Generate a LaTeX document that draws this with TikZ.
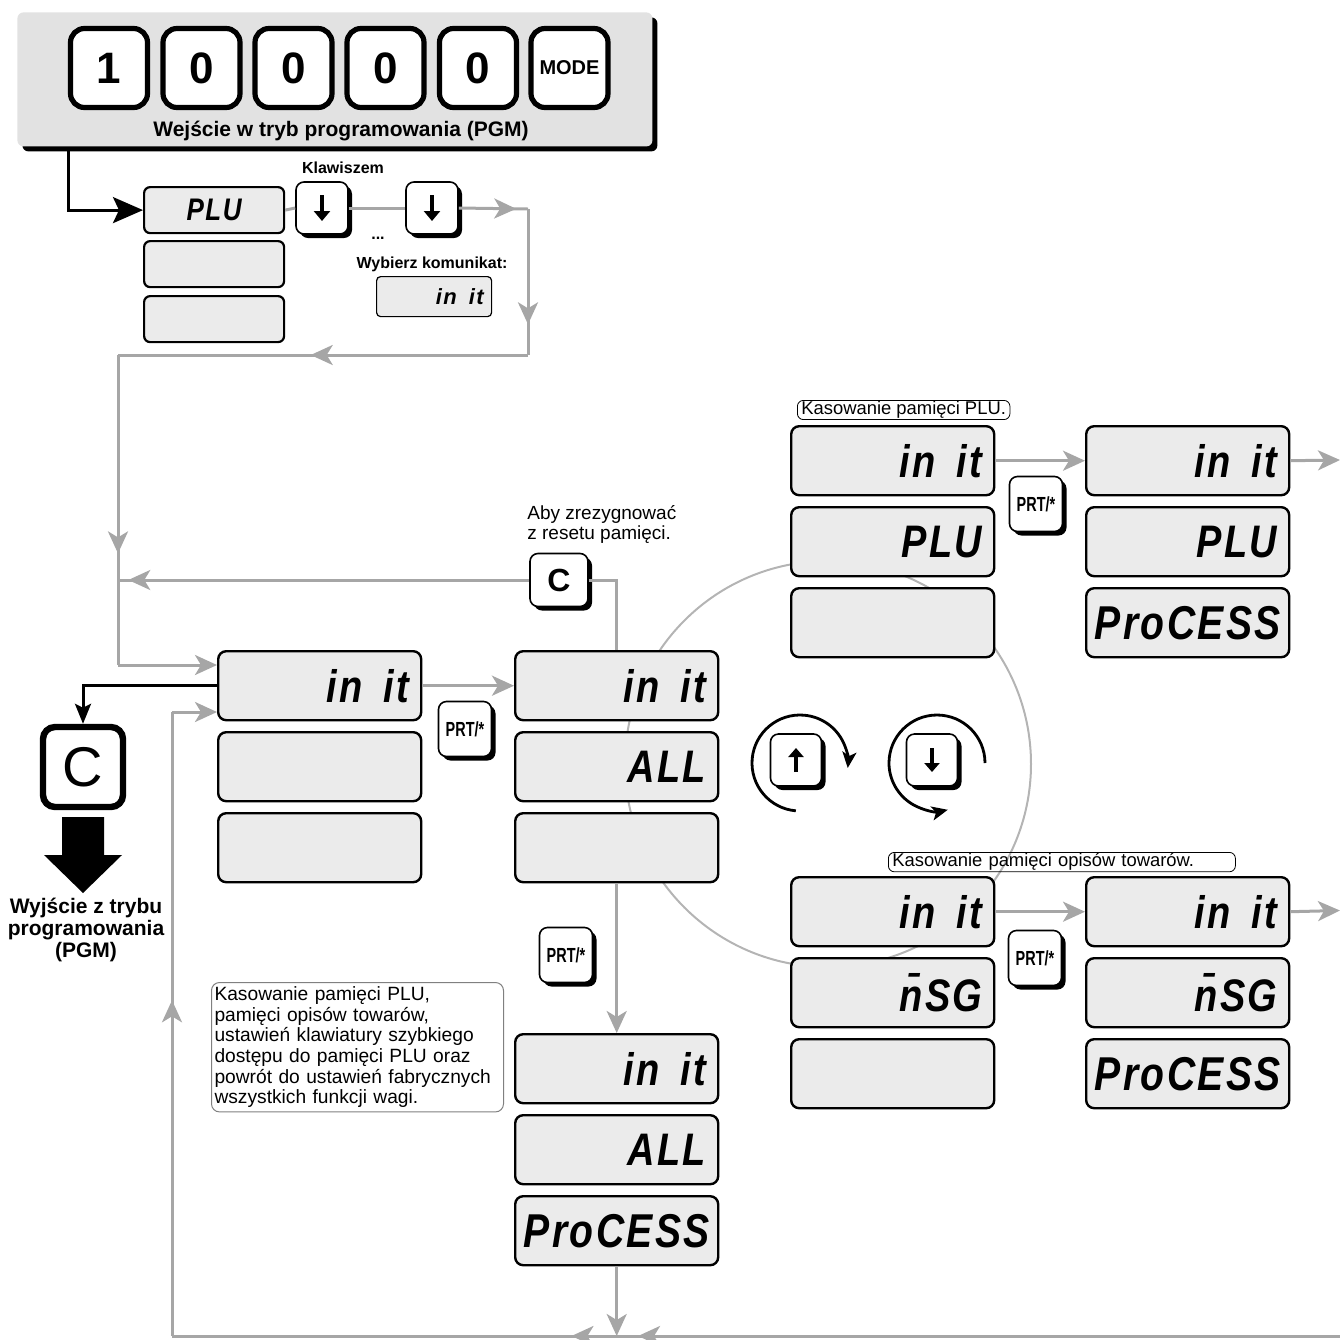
\documentclass[tikz,border=0pt]{standalone}
\usepackage{fontspec}
\setmainfont{Liberation Sans}
\newfontfamily\segfont{Liberation Sans}[LetterSpace=6]
\usetikzlibrary{arrows.meta,shadows,decorations.markings}
\definecolor{dispfill}{HTML}{EBEBEB}
\definecolor{hdrfill}{HTML}{E2E2E2}
\definecolor{lgray}{HTML}{A6A6A6}
\definecolor{cgray}{HTML}{B4B4B4}
\newcommand\seg[2][1.2]{\scalebox{1}[#1]{#2}}
\newcommand\segP[1]{\makebox[89.5pt]{\scalebox{1.03}[1.25]{#1}}}
\newcommand\initxt{in\hspace{0.55em}it}
\begin{document}
\begin{tikzpicture}[x=0.5pt,y=-0.5pt,
  gst/.tip={Stealth[length=11pt,width=10pt,inset=3pt]},
  disp/.style={draw=black, line width=1.2pt, fill=dispfill, rounded corners=4pt, anchor=north west,
    minimum width=101.5pt, minimum height=34.5pt, inner xsep=6pt, inner ysep=0pt, text width=89.5pt,
    align=right, font=\segfont\bfseries\itshape\fontsize{19}{19}\selectfont},
  sbox/.style={draw=black, line width=1.1pt, fill=dispfill, rounded corners=3pt, anchor=north west,
    minimum width=70pt, minimum height=23pt, inner sep=0pt, font=\segfont\bfseries\itshape\fontsize{13}{13}\selectfont},
  tbox/.style={draw=black, line width=0.6pt, fill=dispfill, rounded corners=2pt, anchor=north west,
    minimum width=57.5pt, minimum height=20pt, inner xsep=4pt, inner ysep=0pt, text width=49.5pt,
    align=right, font=\segfont\bfseries\itshape\fontsize{11}{11}\selectfont},
  key/.style={draw=black, line width=0.8pt, fill=white, rounded corners=4pt, inner sep=0pt,
    drop shadow={shadow xshift=2pt, shadow yshift=-2pt, fill=black, opacity=1}},
  prt/.style={key, minimum width=26.5pt, minimum height=27.5pt, font=\bfseries\fontsize{8.5}{8.5}\selectfont},
  hkey/.style={draw=black, line width=2.6pt, fill=white, rounded corners=7pt, minimum width=38.5pt,
    minimum height=39.5pt, inner sep=0pt, font=\bfseries\fontsize{22}{22}\selectfont},
  hdrbox/.style={fill=hdrfill, rounded corners=3pt, anchor=north west, inner sep=0pt,
    minimum width=317.5pt, minimum height=67pt,
    drop shadow={shadow xshift=2.5pt, shadow yshift=-2.5pt, fill=black, opacity=1}},
  bigkey/.style={draw=black, line width=3.2pt, fill=white, rounded corners=6pt, minimum size=40pt,
    inner sep=0pt, font=\fontsize{28}{28}\selectfont},
  bold8/.style={font=\bfseries\fontsize{8}{9.5}\selectfont, inner sep=0pt},
  lbl/.style={draw=black, line width=0.4pt, rounded corners=3pt, inner xsep=2pt, inner ysep=0.5pt,
    anchor=north west, align=left, font=\fontsize{9.2}{10}\selectfont},
  note/.style={draw=gray, line width=0.5pt, rounded corners=4pt, anchor=north west, align=left,
    inner xsep=1.5pt, inner ysep=2pt, text width=143pt, font=\fontsize{9.6}{10.35}\selectfont},
  gl/.style={lgray, line width=1.5pt},
  ga/.style={lgray, line width=1.5pt, -gst},
  mid/.style={postaction={decorate}, decoration={markings, mark=at position #1 with {\arrow{gst}}}},
  rot/.style={black, line width=1.4pt, -{Stealth[length=8pt,width=7pt,inset=2pt]}},
  karrow/.style={black, line width=2.2pt, -{Triangle[length=5pt,width=8pt]}}
]
\useasboundingbox (0,0) rectangle (1340,1340);

% big rotation circle (behind the boxes)
\draw[cgray, line width=1pt] (828,764) circle [radius=203];

% header
\node[hdrbox] (hdr) at (17,12) {};
\node[hkey] (hk1) at (109,68) {1};
\node[hkey] (hk2) at (201.5,68) {0};
\node[hkey] (hk3) at (293.5,68) {0};
\node[hkey] (hk4) at (385.5,68) {0};
\node[hkey] (hk5) at (478,68) {0};
\node[hkey, font=\bfseries\fontsize{10}{10}\selectfont] (hk6) at (569.5,68) {MODE};
\node[font=\bfseries\fontsize{10.5}{12}\selectfont, inner sep=0pt] (hdrtxt) at (341,131) {Wejście w tryb programowania (PGM)};

% top PLU column
\node[sbox] (plu) at (143,186) {\seg[1.2]{PLU}};
\node[sbox] (plu2) at (143,240) {};
\node[sbox] (plu3) at (143,295) {};
\node[bold8] (klaw) at (343,168) {Klawiszem};
\node[key, minimum width=26pt, minimum height=26pt] (k1) at (322,208) {};
\node[key, minimum width=26pt, minimum height=26pt] (k2) at (432,208) {};
\draw[karrow] ([yshift=6.5pt]k1.center) -- ([yshift=-6.5pt]k1.center);
\draw[karrow] ([yshift=6.5pt]k2.center) -- ([yshift=-6.5pt]k2.center);
\node[bold8] (dots) at (378,238) {...};
\node[bold8] (wyb) at (432,264) {Wybierz komunikat:};
\node[tbox] (sinit) at (376,276) {\initxt};

% left column
\node[disp] (L1) at (217,650) {\seg{\initxt}};
\node[disp] (L2) at (217,731) {};
\node[disp] (L3) at (217,812) {};
% middle column
\node[disp] (M1) at (514,650) {\seg{\initxt}};
\node[disp] (M2) at (514,731) {\seg{ALL}};
\node[disp] (M3) at (514,812) {};
\node[disp] (N1) at (514,1033) {\seg{\initxt}};
\node[disp] (N2) at (514,1114) {\seg{ALL}};
\node[disp] (N3) at (514,1195) {\segP{ProCESS}};
% right top
\node[lbl] (lab1) at (797,400) {Kasowanie pamięci PLU.};
\node[disp] (P1) at (790,425) {\seg{\initxt}};
\node[disp] (P2) at (790,506) {\seg{PLU}};
\node[disp] (P3) at (790,587) {};
\node[disp] (Q1) at (1085,425) {\seg{\initxt}};
\node[disp] (Q2) at (1085,506) {\seg{PLU}};
\node[disp] (Q3) at (1085,587) {\segP{ProCESS}};
% right bottom
\node[lbl, text width=169.5pt] (lab2) at (888,852) {Kasowanie pamięci opisów towarów.};
\node[disp] (S1) at (790,876) {\seg{\initxt}};
\node[disp] (S2) at (790,957) {\seg{n^^^^0304SG}};
\node[disp] (S3) at (790,1038) {};
\node[disp] (T1) at (1085,876) {\seg{\initxt}};
\node[disp] (T2) at (1085,957) {\seg{n^^^^0304SG}};
\node[disp] (T3) at (1085,1038) {\segP{ProCESS}};

% keys
\node[prt] (prtA) at (465,729) {\scalebox{0.85}[1.2]{PRT/*}};
\node[prt] (prtB) at (566,955) {\scalebox{0.85}[1.2]{PRT/*}};
\node[prt] (prtC) at (1036,504) {\scalebox{0.85}[1.2]{PRT/*}};
\node[prt] (prtD) at (1035,958) {\scalebox{0.85}[1.2]{PRT/*}};
\node[key, minimum width=29pt, minimum height=26.5pt, font=\bfseries\fontsize{16}{16}\selectfont] (ckey) at (559,580) {C};
\node[font=\fontsize{9.5}{10}\selectfont, align=left, anchor=north west, inner sep=0pt] (aby) at (527,505) {Aby zrezygnować\\z resetu pamięci.};

% up / down keys with rotation arrows
\node[key, minimum width=25.5pt, minimum height=26pt] (ku) at (796,760) {};
\node[key, minimum width=25.5pt, minimum height=26pt] (kd) at (932,760) {};
\draw[black, line width=2pt, -{Triangle[length=4.5pt,width=7.5pt]}] ([yshift=-6pt]ku.center) -- ([yshift=6pt]ku.center);
\draw[black, line width=2pt, -{Triangle[length=4.5pt,width=7.5pt]}] ([yshift=6pt]kd.center) -- ([yshift=-6pt]kd.center);
\draw[rot] (800,763) ++(95:48) arc[start angle=95, end angle=366, radius=48];
\draw[rot] (937,763) ++(0:48) arc[start angle=0, end angle=-283, radius=48];

% exit
\node[bigkey] (bigc) at (83,767) {C};
\fill[black] (62,817) -- (104,817) -- (104,855) -- (122,855) -- (83,893) -- (44,855) -- (62,855) -- cycle;
\node[font=\bfseries\fontsize{10.5}{11}\selectfont, align=center, inner sep=0pt] (exit) at (86,930) {Wyjście z trybu\\programowania\\(PGM)};

% note
\node[note] (note) at (211,982) {Kasowanie pamięci PLU,\\pamięci opisów towarów,\\ustawień klawiatury szybkiego\\dostępu do pamięci PLU oraz\\powrót do ustawień fabrycznych\\wszystkich funkcji wagi.};

% coordinates
\coordinate (hc) at (68,150);
\coordinate (c1) at (528,209);
\coordinate (c2) at (528,355);
\coordinate (c3) at (118,355);
\coordinate (c4) at (118,665);
\coordinate (c5) at (118,580);
\coordinate (c6) at (172,712);
\coordinate (bl) at (172,1336);
\coordinate (rb) at (1340,1336);
\coordinate (e1) at (1340,460);
\coordinate (e2) at (1340,910.5);

% connectors
\draw[black, line width=1.5pt, -{Stealth[length=15pt,width=13pt,inset=3pt]}] (hc) |- (plu.west);
\draw[gl] (plu.east) -- (k1.west);
\draw[gl] (k1.east) -- (k2.west);
\draw[gl, mid=0.83] (k2.east) -- (c1);
\draw[gl, mid=0.79] (c1) -- (c2);
\draw[gl, mid=0.53] (c2) -- (c3);
\draw[gl, mid=0.64] (c3) -- (c4);
\draw[ga] (c4) -- (c4 -| L1.west);
\draw[gl, mid=0.975] (ckey.west) -- (c5);
\draw[gl] (ckey.east) -| (M1.north);
\draw[black, line width=1.5pt, -{Stealth[length=10pt,width=8pt,inset=2pt]}] (L1.west) -| (bigc.north);
\draw[ga] (L1.east) -- (M1.west);
\draw[ga] (M3.south) -- (N1.north);
\draw[ga] (N3.south) -- (N3.south |- rb);
\draw[gl, postaction={decorate}, decoration={markings, mark=at position 0.601 with {\arrow{gst}}, mark=at position 0.658 with {\arrow{gst}}}] (rb) -- (bl);
\draw[gl, mid=0.538] (bl) -- (c6);
\draw[ga] (c6) -- (c6 -| L1.west);
\draw[ga] (P1.east) -- (Q1.west);
\draw[ga] (Q1.east) -- (e1);
\draw[ga] (S1.east) -- (T1.west);
\draw[ga] (T1.east) -- (e2);
\end{tikzpicture}
\end{document}
